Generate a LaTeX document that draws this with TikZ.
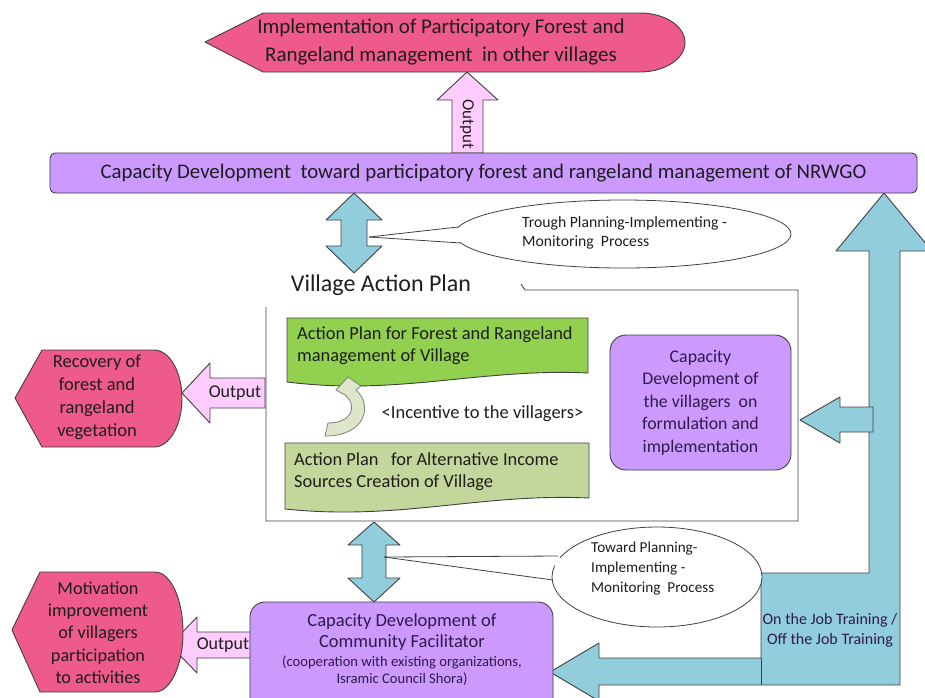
\documentclass[tikz,border=0pt]{standalone}
\usepackage{fontspec}
\setmainfont{Carlito}
\usetikzlibrary{calc,shapes.geometric}
\newcommand\fsz[2]{\fontsize{#1}{#2}\selectfont}
\definecolor{roseshape}{HTML}{EE5A8A}
\definecolor{lilac}{HTML}{CC99FF}
\definecolor{skyblue}{HTML}{92CDDC}
\definecolor{outpink}{HTML}{FFCCFF}
\definecolor{leafgreen}{HTML}{92D050}
\definecolor{olivegreen}{HTML}{C3D69B}
\definecolor{curvefill}{HTML}{DDE6C8}
\definecolor{edgegray}{HTML}{404040}
\definecolor{ink}{HTML}{1E1E1E}
\definecolor{plumink}{HTML}{2F1B4A}
\tikzset{
  outl/.style={draw=edgegray, line width=0.9pt, line join=round},
  rose/.style={outl, fill=roseshape},
  lilacbox/.style={outl, fill=lilac},
  blockblue/.style={outl, fill=skyblue},
  outarrow/.style={outl, fill=outpink},
  txt/.style={inner sep=0pt, text=ink, align=center},
  callout/.style={draw=edgegray, line width=0.8pt, fill=white},
}
\begin{document}
\begin{tikzpicture}[x=1pt,y=-1pt]
\useasboundingbox (0,0) rectangle (925,697);

% ---------- big training arrow (right side, L-shaped) ----------
\draw[blockblue] (884,193) -- (932,251) -- (900,251) -- (900,685) -- (599,685)
  -- (599,701) -- (550,672) -- (599,643) -- (599,658) -- (761,658)
  -- (761,573) -- (869,573) -- (869,251) -- (836,251) -- cycle;
\draw[outl] (761,658) -- (761,685);
\node[txt, text=plumink, font=\fsz{16}{20}] (ojt) at (830,630)
  {On the Job Training /\\Off the Job Training};

% ---------- small arrow into villagers capacity box ----------
\draw[blockblue] (800,420) -- (840,397) -- (840,407) -- (873,407) -- (873,432)
  -- (840,432) -- (840,443) -- cycle;

% ---------- top output target ----------
\draw[rose] (205,42) -- (263,13) -- (640,13)
  arc[start angle=-90, end angle=90, x radius=45, y radius=29.5]
  -- (263,72) -- cycle;
\node[txt, font=\fsz{21}{28}] (impl) at (441,42)
  {Implementation of Participatory Forest and\\Rangeland management\ \ in other villages};

% output arrow up
\draw[outarrow] (452,153) -- (452,100) -- (437,100) -- (467,72) -- (498,100)
  -- (483,100) -- (483,153) -- cycle;
\node[txt, rotate=-90, font=\fsz{17}{18}] (outtop) at (467,124) {Output};

% ---------- top bar ----------
\node[lilacbox, rounded corners=5pt, minimum width=867pt, minimum height=40pt,
  inner sep=0pt, text=ink, font=\fsz{20.8}{24}] (nrwgo) at (483.5,173)
  {Capacity Development\ \ toward participatory forest and rangeland management of NRWGO};

% ---------- double arrow between bar and village plan ----------
\draw[blockblue] (354,193) -- (382,220) -- (367,220) -- (367,246) -- (382,246)
  -- (354,273) -- (326,246) -- (341,246) -- (341,220) -- (326,220) -- cycle;

% callout (top)
\node[callout, ellipse, minimum width=336pt, minimum height=68pt] (callA) at (623,234) {};
\fill[white] (453,228) -- (470,228) -- (470,242) -- (455,242) -- cycle;
\draw[draw=edgegray, line width=0.8pt] (369,237) -- (458,227);
\draw[draw=edgegray, line width=0.8pt] (369,237) -- (461,243);
\node[txt, align=left, anchor=west, font=\fsz{15.7}{19}] (callAtxt) at (522,232.5)
  {Trough Planning-Implementing -\\Monitoring\ \ Process};

% ---------- village action plan frame ----------
\node[txt, font=\fsz{24}{28}] (vaptitle) at (381,285) {Village Action Plan};
\draw[draw=edgegray, line width=0.9pt] (521,284) -- (525,290) -- (798,290)
  -- (798,521) -- (266,521) -- (266,307);

% action plan (forest)
\draw[outl, fill=leafgreen] (287,318) -- (588,318) -- (588,373)
  .. controls (480,368) and (400,396) .. (287,382) -- cycle;
\node[txt, align=left, anchor=west, font=\fsz{18.4}{22}] (apforest) at (297,346)
  {Action Plan for Forest and Rangeland\\management of Village};

% action plan (income)
\draw[outl, fill=olivegreen] (285,443) -- (589,443) -- (589,498)
  .. controls (480,493) and (400,521) .. (285,509) -- cycle;
\node[txt, align=left, anchor=west, font=\fsz{18.4}{22}] (apincome) at (294,472)
  {Action Plan\ \ \ for Alternative Income\\Sources Creation of Village};

% curved incentive arrow
\draw[draw=gray, line width=0.8pt, fill=curvefill, line join=round]
  (348,377) -- (361,386) -- (356,390)
  .. controls (373,405) and (366,436) .. (325,436) -- (328,423)
  .. controls (352,423) and (358,406) .. (345,395) -- (336,390) -- cycle;
\node[txt, font=\fsz{18.5}{20}] (incent) at (482.5,414) {<Incentive to the villagers>};

% villagers capacity box
\node[lilacbox, rounded corners=16pt, minimum width=181pt, minimum height=135pt,
  inner sep=0pt, text=plumink, align=center, font=\fsz{17.8}{22.5}] (villcap) at (700.5,402.5)
  {Capacity\\Development of\\the villagers\ \ on\\formulation and\\implementation};

% ---------- left output: recovery ----------
\draw[outarrow] (265,378) -- (210,378) -- (210,363) -- (182,393) -- (210,423)
  -- (210,408) -- (265,408) -- cycle;
\node[txt, font=\fsz{18}{20}] (outrec) at (235,393) {Output};
\draw[rose] (15,398) -- (42,350) -- (154,350)
  arc[start angle=-90, end angle=90, x radius=28, y radius=48.5]
  -- (42,447) -- cycle;
\node[txt, font=\fsz{18.5}{23}] (recov) at (97,397)
  {Recovery of\\forest and\\rangeland\\vegetation};

% ---------- double arrow between plan and facilitator ----------
\draw[blockblue] (374,522) -- (400,545) -- (386,545) -- (386,578) -- (400,578)
  -- (374,602) -- (348,578) -- (362,578) -- (362,545) -- (348,545) -- cycle;

% callout (bottom)
\node[callout, ellipse, minimum width=210pt, minimum height=100pt] (callB) at (657,577) {};
\fill[white] (554,558) -- (575,558) -- (575,578) -- (556,578) -- cycle;
\draw[draw=edgegray, line width=0.8pt] (384,557) -- (558,556);
\draw[draw=edgegray, line width=0.8pt] (384,557) -- (553,580);
\node[txt, align=left, anchor=west, font=\fsz{15.2}{20}] (callBtxt) at (591,569)
  {Toward Planning-\\Implementing -\\Monitoring\ \ Process};

% ---------- left output: motivation ----------
\draw[outarrow] (255,632) -- (197,632) -- (197,617) -- (170,645) -- (197,673)
  -- (197,658) -- (255,658) -- cycle;
\node[txt, font=\fsz{18}{20}] (outmot) at (223,645) {Output};
\draw[rose] (12,630) -- (40,572) -- (155,572)
  arc[start angle=-90, end angle=90, x radius=28, y radius=60]
  -- (40,692) -- cycle;
\node[txt, font=\fsz{18.2}{22.3}] (motiv) at (98,632.5)
  {Motivation\\improvement\\of villagers\\participation\\to activities};

% ---------- community facilitator box ----------
\draw[lilacbox, rounded corners=15pt] (250,602) rectangle (553,715);
\node[txt, text=plumink, font=\fsz{18.5}{21}] (cf) at (402,632.5)
  {Capacity Development of\\Community Facilitator};
\node[txt, text=plumink, font=\fsz{14.6}{17}] (cfnote) at (402,670.5)
  {(cooperation with existing organizations,\\Isramic Council Shora)};

\end{tikzpicture}
\end{document}
